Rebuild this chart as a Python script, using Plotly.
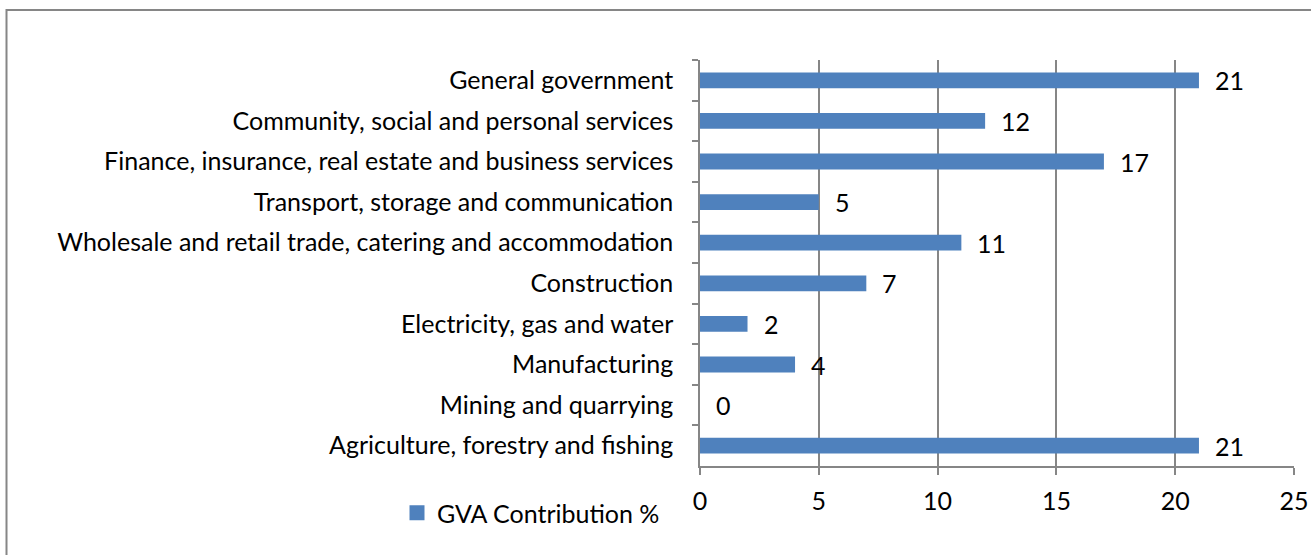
import plotly.graph_objects as go

# Sectors, listed from top to bottom as they appear on the chart
sectors = [
    "General government",
    "Community, social and personal services",
    "Finance, insurance, real estate and business services",
    "Transport, storage and communication",
    "Wholesale and retail trade, catering and accommodation",
    "Construction",
    "Electricity, gas and water",
    "Manufacturing",
    "Mining and quarrying",
    "Agriculture, forestry and fishing",
]
gva_share = [21, 12, 17, 5, 11, 7, 2, 4, 0, 21]
x_ticks = [0, 5, 10, 15, 20, 25]
series_name = "GVA Contribution %"

font_family = "Lato, 'Open Sans', sans-serif"
font_size = 25
bar_color = "#4F81BD"
axis_gray = "#868686"

fig = go.Figure()
fig.add_trace(go.Bar(
    y=sectors,
    x=gva_share,
    orientation="h",
    name=series_name,
    marker=dict(color=bar_color, line=dict(width=0)),
    width=0.39,
    showlegend=False,
))
# legend entry with a larger square swatch
fig.add_trace(go.Scatter(
    x=[None], y=[None], mode="markers", name=series_name,
    marker=dict(symbol="square", size=15, color=bar_color),
    showlegend=True,
))

# value labels to the right of each bar
for s, v in zip(sectors, gva_share):
    fig.add_annotation(
        x=v, y=s, xref="x", yref="y",
        text=str(v), showarrow=False,
        xanchor="left", yanchor="middle",
        xshift=14, yshift=0,
        font=dict(family=font_family, size=font_size, color="black"),
    )

W, H = 1311, 555
left, right, top, bottom = 700, 1294, 60, 466
pw, ph = right - left, bottom - top

def px_x(p):
    return (p - left) / pw

def px_y(p):
    return (bottom - p) / ph

# chart border
fig.add_shape(
    type="rect", xref="paper", yref="paper",
    x0=px_x(6.5), x1=px_x(1330), y0=px_y(580), y1=px_y(10),
    line=dict(color=axis_gray, width=2), fillcolor="rgba(0,0,0,0)",
    layer="below",
)

fig.update_layout(
    template="none",
    width=W, height=H,
    margin=dict(l=left, r=W - right, t=top, b=H - bottom, pad=0, autoexpand=False),
    paper_bgcolor="white", plot_bgcolor="white",
    font=dict(family=font_family, size=font_size, color="black"),
    bargap=0.61,
    showlegend=True,
    legend=dict(
        x=px_x(397), y=px_y(513), xanchor="left", yanchor="middle",
        orientation="h", font=dict(size=font_size),
        bgcolor="rgba(0,0,0,0)", itemwidth=30, borderwidth=0,
    ),
    xaxis=dict(
        range=[0, 25], tickvals=x_ticks, ticktext=[str(t) for t in x_ticks],
        showgrid=True, gridcolor=axis_gray, gridwidth=1.5,
        showline=True, linecolor=axis_gray, linewidth=1.5,
        ticks="outside", ticklen=7, tickcolor=axis_gray, tickwidth=1.5,
        zeroline=False, tickfont=dict(size=font_size), ticklabelstandoff=5,
        automargin=False,
    ),
    yaxis=dict(
        autorange="reversed", categoryorder="array", categoryarray=sectors,
        showline=True, linecolor=axis_gray, linewidth=1.5,
        ticks="outside", ticklen=6, tickcolor=axis_gray, tickwidth=1.5,
        tickson="boundaries", showgrid=False, zeroline=False,
        tickfont=dict(size=font_size), ticklabelstandoff=20,
        automargin=False,
    ),
)

fig.write_html("out.html")
